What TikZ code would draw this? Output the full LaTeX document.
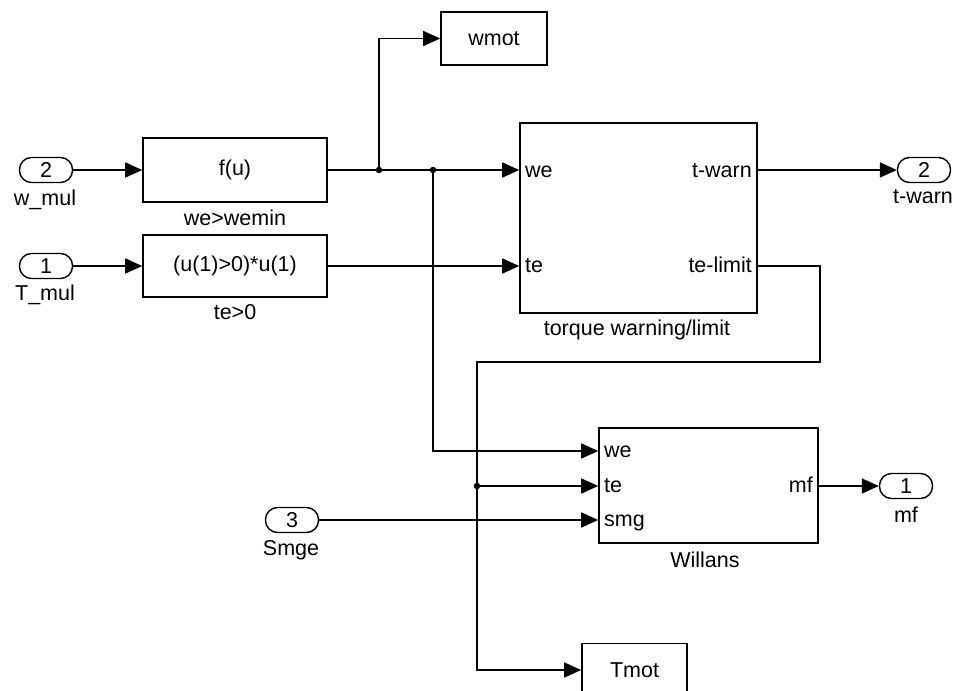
\documentclass[tikz,border=0pt]{standalone}
\usepackage{fontspec}
\setmainfont{Liberation Sans}
\usetikzlibrary{arrows.meta}
\begin{document}
\begin{tikzpicture}[x=1pt,y=-1pt,
  every node/.style={font=\fontsize{21.5}{25}\selectfont, inner sep=0pt},
  blk/.style={draw, line width=1.6pt, rectangle},
  inport/.style={draw, line width=1.4pt, rectangle, rounded corners=12pt, minimum width=53pt, minimum height=25pt},
  sig/.style={line width=1.6pt, -{Triangle[length=17pt,width=15pt]}},
  jdot/.style={circle, fill, minimum size=6.5pt, inner sep=0pt},
  pin/.style={anchor=base west},
  pout/.style={anchor=base east}]
\useasboundingbox (0,0) rectangle (954,691);
\clip (0,0) rectangle (954,691);

% inports / outports
\node[inport] (in2) at (46,170) {2};
\node (in2l) at (45,200) {w\_mul};
\node[inport] (in1) at (46,266) {1};
\node (in1l) at (45,295) {T\_mul};
\node[inport] (smge) at (292,520) {3};
\node (smgel) at (291,550) {Smge};
\node[inport] (tw) at (924,170) {2};
\node (twl) at (923,197) {t-warn};
\node[inport] (mf) at (906,486) {1};
\node (mfl) at (906,515) {mf};

% blocks
\node[blk, minimum width=184pt, minimum height=64pt] (fu) at (235,170) {f(u)};
\node (ful) at (235,218) {we>wemin};
\node[blk, minimum width=184pt, minimum height=62pt] (te0) at (235,266) {(u(1)>0)*u(1)};
\node (te0l) at (235,312) {te>0};
\node[blk, minimum width=106pt, minimum height=53pt] (wmot) at (494,38.5) {wmot};
\node[blk, minimum width=237pt, minimum height=190pt] (torque) at (638.5,218) {};
\node (torquel) at (637,330) {torque warning/limit};
\node[pin] (tqwe) at (525,177) {we};
\node[pin] (tqte) at (525,272.5) {te};
\node[pout] (tqtw) at (752,177) {t-warn};
\node[pout] (tqtl) at (752,272.5) {te-limit};
\node[blk, minimum width=219pt, minimum height=115pt] (wil) at (708.5,485.5) {};
\node (will) at (705,560) {Willans};
\node[pin] (wwe) at (604,457.5) {we};
\node[pin] (wte) at (604,492.5) {te};
\node[pin] (wsmg) at (604,526.5) {smg};
\node[pout] (wmf) at (813,492.5) {mf};
\node[blk, minimum width=105pt, minimum height=53pt] (tmot) at (634.5,670) {Tmot};

% junctions
\coordinate (j1) at (379,170);
\coordinate (j2) at (433,170);
\coordinate (j3) at (477,486);
\coordinate (k1) at (820,362);
\coordinate (k2) at (477,362);

% connectors
\draw[sig] (in2) -- (fu);
\draw[sig] (in1) -- (te0);
\draw[sig] (fu.east) -- (torque.west |- fu.east);
\draw[sig] (j1) |- (wmot.west);
\draw[sig] (j2) |- (wil.west |- 0,451);
\draw[sig] (te0.east) -- (torque.west |- te0.east);
\draw[sig] (torque.east |- tw.west) -- (tw.west);
\draw[sig] (torque.east |- te0.east) -| (k1) -- (k2) |- (tmot.west);
\draw[sig] (j3) -- (wil.west |- j3);
\draw[sig] (smge) -- (wil.west |- smge);
\draw[sig] (wil.east |- mf.west) -- (mf.west);

\node[jdot] (d1) at (j1) {};
\node[jdot] (d2) at (j2) {};
\node[jdot] (d3) at (j3) {};
\end{tikzpicture}
\end{document}
